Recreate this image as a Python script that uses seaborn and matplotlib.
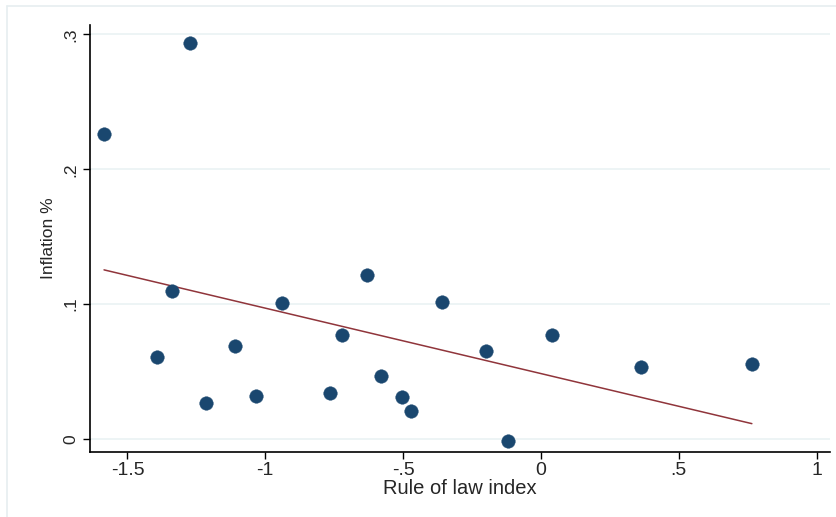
import numpy as np
import pandas as pd
import matplotlib
matplotlib.use('Agg')
import matplotlib.pyplot as plt
import seaborn as sns
from matplotlib.lines import Line2D
from matplotlib.path import Path

rule_of_law = [-1.585, -1.273, -1.338, -1.393, -1.215, -1.110, -1.034, -0.939,
               -0.765, -0.722, -0.631, -0.580, -0.504, -0.472, -0.359, -0.199,
               -0.120, 0.040, 0.363, 0.765]
inflation = [0.2264, 0.2940, 0.1099, 0.0609, 0.0267, 0.0690, 0.0319, 0.1010,
             0.0341, 0.0772, 0.1218, 0.0468, 0.0312, 0.0208, 0.1017, 0.0653,
             -0.0015, 0.0772, 0.0535, 0.0557]

x_ticks = [-1.5, -1, -0.5, 0, 0.5, 1]
x_ticklabels = ['-1.5', '-1', '-.5', '0', '.5', '1']
y_ticks = [0, 0.1, 0.2, 0.3]
y_ticklabels = ['0', '.1', '.2', '.3']

MARKER_COLOR = '#1a476f'
LINE_COLOR = '#90353b'
GRID_COLOR = '#eaf2f3'

# the original picture is a bit stretched sideways, so use a flat ellipse marker
t = np.linspace(0, 2 * np.pi, 40)
ellipse = Path(np.column_stack([np.cos(t), 0.82 * np.sin(t)]), closed=True)

df = pd.DataFrame({'rule_of_law': rule_of_law, 'inflation': inflation})

sns.set_style('white')
plt.rcParams['font.family'] = ['Liberation Sans', 'DejaVu Sans']

fig = plt.figure(figsize=(8.37, 5.17), dpi=100)
ax = fig.add_axes([0.1075, 0.1257, 0.884, 0.826])

sns.regplot(data=df, x='rule_of_law', y='inflation', ax=ax, ci=None,
            scatter_kws={'s': 95, 'color': MARKER_COLOR, 'edgecolor': MARKER_COLOR,
                         'linewidths': 0.3, 'alpha': 1, 'zorder': 3,
                         'marker': ellipse},
            line_kws={'color': LINE_COLOR, 'linewidth': 1.1, 'zorder': 2})

ax.set_xlim(-1.636, 1.048)
ax.set_ylim(-0.0097, 0.307)
ax.set_xticks(x_ticks)
ax.set_xticklabels(x_ticklabels, fontsize=14)
ax.set_yticks(y_ticks)
ax.set_yticklabels(y_ticklabels, rotation=90, va='center', fontsize=12.5)
ax.tick_params(axis='both', direction='out', length=5, width=1, color='black',
               pad=3, left=True, bottom=True)
ax.tick_params(axis='x', pad=2)
ax.yaxis.grid(True, color=GRID_COLOR, linewidth=1.2)
ax.xaxis.grid(False)
ax.set_axisbelow(True)

for side in ['top', 'right']:
    ax.spines[side].set_visible(False)
for side in ['left', 'bottom']:
    ax.spines[side].set_color('black')
    ax.spines[side].set_linewidth(1.2)

ax.set_xlabel('Rule of law index', fontsize=14.5, labelpad=0)
ax.set_ylabel('Inflation %', fontsize=12.5, labelpad=6)

# faint outer frame of the graph region
fig.add_artist(Line2D([7 / 837, 7 / 837], [0, 1 - 6 / 517], transform=fig.transFigure,
                      color='#e6eef0', linewidth=1.2))
fig.add_artist(Line2D([7 / 837, 1], [1 - 6 / 517, 1 - 6 / 517], transform=fig.transFigure,
                      color='#e6eef0', linewidth=1.2))

fig.savefig('out.png', dpi=100)
